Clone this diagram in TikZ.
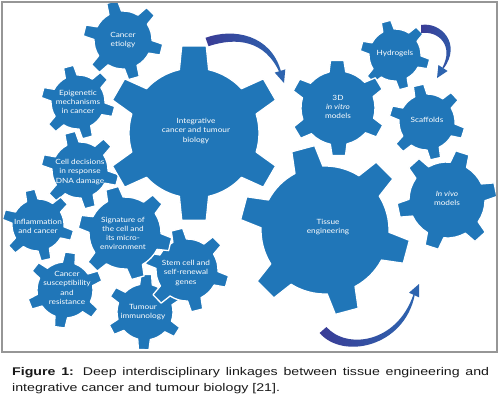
\documentclass[tikz,border=0pt]{standalone}
\usepackage{fontspec}
\setmainfont{Liberation Sans}
\newfontfamily\gfont[FakeStretch=1.15]{Lato}
\newfontfamily\capfont[FakeStretch=1.27]{Liberation Sans}
\definecolor{gearblue}{RGB}{32,118,184}
\definecolor{arrowdark}{RGB}{58,60,150}
\definecolor{arrowlight}{RGB}{45,100,175}
\definecolor{framegray}{RGB}{150,150,150}
\newcommand{\gearat}[5]{%
  \begin{scope}[shift={(#1,-#2)}]
    \filldraw[gearfill] ({#5-13}:#3)
      \foreach \k in {0,...,5}{
        -- ({#5+60*\k-13}:#3) -- ({#5+60*\k-8}:#4) -- ({#5+60*\k+8}:#4) -- ({#5+60*\k+13}:#3)
        arc[start angle={#5+60*\k+13}, end angle={#5+60*\k+47}, radius=#3]
      } -- cycle;
  \end{scope}}
\tikzset{
  gearfill/.style={fill=gearblue, draw=white, line width=1.3bp, line join=round},
  gtext/.style={text=white, align=center, inner sep=0pt,
    font=\gfont\fontsize{7.2}{9.2}\selectfont},
  arrowshade/.style={left color=arrowdark, right color=arrowlight},
  headfill/.style={fill=arrowlight},
}
\begin{document}
\begin{tikzpicture}[x=1bp,y=1bp]
\useasboundingbox (0,0) rectangle (502,-403);
\fill[white] (0,0) rectangle (502,-403);

\begin{scope}
\clip (3,-3) rectangle (496,-351);
% gears
\gearat{123}{40}{29}{40}{106}
\gearat{78}{102}{27}{37}{105}
\gearat{80}{170}{28}{39}{105}
\gearat{38}{225}{26}{36}{103}
\gearat{65}{290}{28}{38}{82}
\gearat{145}{312}{28}{38}{88}
\gearat{187}{270}{31}{42}{104}
\gearat{125}{233}{36}{47}{106}
\gearat{194}{133}{65}{88}{90}
\gearat{395}{55}{26}{35}{105}
\gearat{427}{122}{28}{38}{103}
\gearat{338}{108}{37}{48}{91}
\gearat{447}{200}{38}{50}{72}
\gearat{325}{230}{64}{85}{105}

% arrows
\coordinate (a1s) at (207,-42);
\coordinate (a1t) at (284,-83);
\shade[arrowshade] (205.5,-37.8) .. controls (234,-27.5) and (271,-35) .. (281,-71.5)
  -- (279.5,-72.5) .. controls (265,-40) and (236,-37) .. (208.5,-46.2) -- cycle;
\fill[headfill] (285.3,-69.4) -- (a1t) -- (274.7,-72.6) -- cycle;

\coordinate (a2s) at (421,-29);
\coordinate (a2t) at (437,-78);
\shade[arrowshade] (421,-25) .. controls (441,-21.5) and (462,-44) .. (443.6,-68.4)
  -- (442.4,-67.6) .. controls (454,-46) and (439,-30.5) .. (421,-33) -- cycle;
\fill[headfill] (447.6,-71) -- (a2t) -- (438.4,-65) -- cycle;

\coordinate (a3s) at (323,-330);
\coordinate (a3t) at (419,-284);
\shade[arrowshade] (319.6,-333) .. controls (343,-360) and (404,-347) .. (414.7,-295.2)
  -- (413.3,-294.8) .. controls (397,-343) and (347,-350) .. (326.4,-327) -- cycle;
\fill[headfill] (419,-297.3) -- (a3t) -- (409,-292.7) -- cycle;
\end{scope}

% labels
\node[gtext] (etio) at (123,-40) {Cancer\\etiolgy};
\node[gtext] (epi) at (78,-102) {Epigenetic\\mechanisms\\in cancer};
\node[gtext] (cell) at (80,-172) {Cell decisions\\in response\\DNA damage};
\node[gtext] (inflam) at (38,-226) {Inflammation\\and cancer};
\node[gtext] (sig) at (123,-233.5) {Signature of\\the cell and\\its micro-\\environment};
\node[gtext] (susc) at (67,-288) {Cancer\\susceptibility\\and\\resistance};
\node[gtext] (stem) at (186,-273) {Stem cell and\\self-renewal\\genes};
\node[gtext] (tum) at (143,-312) {Tumour\\immunology};
\node[gtext] (integ) at (196,-131) {Integrative\\cancer and tumour\\biology};
\node[gtext] (vitro) at (338,-107) {3D\\\textit{in vitro}\\models};
\node[gtext] (hydro) at (395,-54) {Hydrogels};
\node[gtext] (scaf) at (427,-120) {Scaffolds};
\node[gtext] (tissue) at (328,-227) {Tissue\\engineering};
\node[gtext] (vivo) at (447,-198) {\textit{In vivo}\\models};

% frame
\draw[framegray, line width=2.5bp] (2,-2) rectangle (497,-352);

% caption
\node[anchor=north west, inner sep=0pt, text width=477bp, align=justify,
  font=\capfont\fontsize{11.2}{15.5}\selectfont, text=black!90] (cap) at (12,-367.5)
  {\textbf{Figure 1:} Deep interdisciplinary linkages between tissue engineering and\linebreak
   integrative cancer and tumour biology [21].};
\end{tikzpicture}
\end{document}
